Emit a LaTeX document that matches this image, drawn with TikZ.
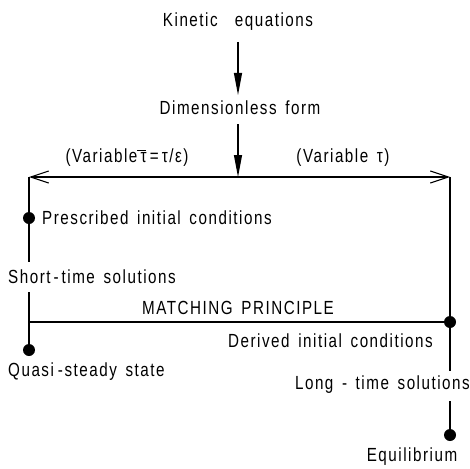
\documentclass[tikz,border=0pt]{standalone}
\usepackage{fontspec}
\setmainfont{Liberation Sans}[FakeStretch=0.8, LetterSpace=8, WordSpace=1.5]
\usetikzlibrary{arrows.meta}
\tikzset{
  lbl/.style={font=\fontsize{19}{22}\selectfont, inner sep=0pt},
  ln/.style={line width=1.1pt},
  dot/.style={circle, fill=black, inner sep=0pt, minimum size=12pt},
  fillarrow/.style={ln, -{Triangle[length=22pt,width=8pt]}},
  barb/.style={ln, {Straight Barb[length=18pt,width=12pt]}-{Straight Barb[length=18pt,width=12pt]}}
}
\newcommand{\bartau}{\mbox{τ}\llap{\raisebox{0.62em}{\rule{0.45em}{0.9pt}}\hspace{0.03em}}}
\begin{document}
\begin{tikzpicture}[x=1pt,y=-1pt]
\useasboundingbox (0,0) rectangle (470,468);
\node[lbl] (kin) at (238,22) {Kinetic\ \ equations};
\node[lbl] (dim) at (240,108) {Dimensionless form};
\node[lbl] (vbar) at (127,158) {(Variable\,\bartau\,=\,τ/ε)};
\node[lbl] (vtau) at (343,158) {(Variable τ)};
\coordinate (L) at (29,177);
\coordinate (R) at (450,177);
\coordinate (M) at (238,177);
\node[dot] (pd) at (29,218) {};
\node[lbl, anchor=west] (pres) at (42,218) {Prescribed initial conditions};
\node[lbl, anchor=west] (short) at (8,277) {Short\hspace{3pt}-\hspace{3pt}time solutions};
\node[lbl] (match) at (238,308) {MATCHING PRINCIPLE};
\node[dot] (qd) at (29,350) {};
\node[lbl, anchor=west] (quasi) at (8,372) {Quasi\hspace{4pt}-steady state};
\node[dot] (dd) at (450,322) {};
\node[lbl, anchor=east] (der) at (433,341) {Derived initial conditions};
\node[lbl, anchor=east] (long) at (470,385) {Long - time solutions};
\node[dot] (ed) at (450,435) {};
\node[lbl] (eq) at (412,457) {Equilibrium};
\coordinate (s1) at (29,262);
\coordinate (s2) at (29,292);
\coordinate (m1) at (29,322);
\coordinate (l1) at (450,371);
\coordinate (l2) at (450,401);
\draw[fillarrow] (238,42) -- (238,95);
\draw[fillarrow] (238,124) -- (M);
\draw[barb] (L) -- (R);
\draw[ln] (L) -- (pd) -- (s1);
\draw[ln] (s2) -- (qd);
\draw[ln] (m1) -- (dd);
\draw[ln] (R) -- (dd) -- (l1);
\draw[ln] (l2) -- (ed);
\end{tikzpicture}
\end{document}
